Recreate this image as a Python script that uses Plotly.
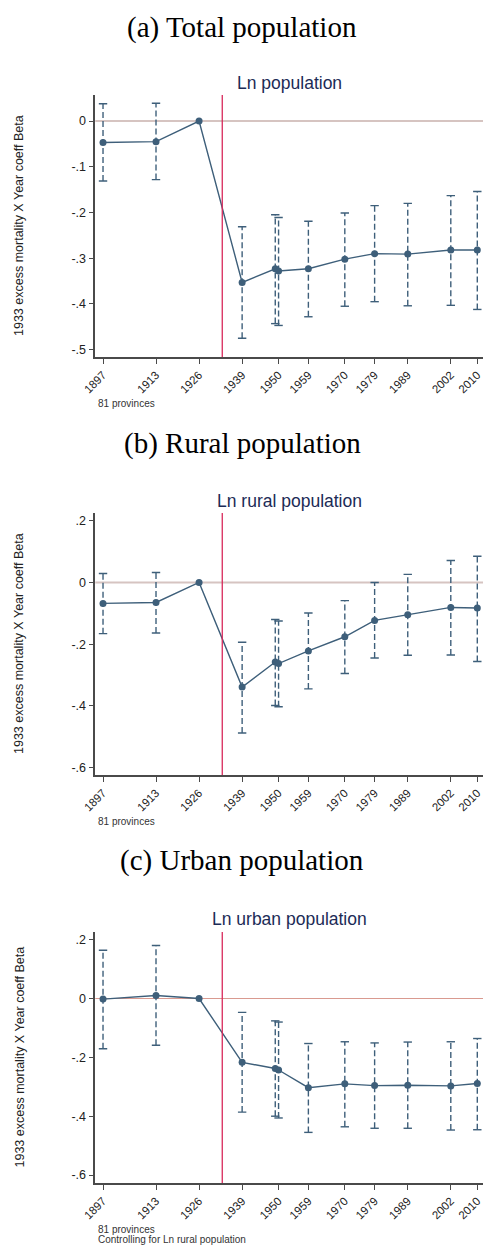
import plotly.graph_objects as go

# Census years (1949 and 1950 are separate observations)
years = [1897, 1913, 1926, 1939, 1949, 1950, 1959, 1970, 1979, 1989, 2002, 2010]
tick_years = [1897, 1913, 1926, 1939, 1950, 1959, 1970, 1979, 1989, 2002, 2010]

# (a) Ln population
total_beta = [-0.047, -0.045, 0.0, -0.353, -0.323, -0.328, -0.323, -0.302, -0.290, -0.291, -0.282, -0.282]
total_hi = [0.038, 0.039, None, -0.231, -0.205, -0.211, -0.219, -0.201, -0.185, -0.180, -0.163, -0.154]
total_lo = [-0.131, -0.128, None, -0.475, -0.443, -0.447, -0.428, -0.405, -0.395, -0.404, -0.403, -0.412]

# (b) Ln rural population
rural_beta = [-0.068, -0.065, 0.0, -0.339, -0.258, -0.263, -0.222, -0.176, -0.123, -0.105, -0.081, -0.083]
rural_hi = [0.029, 0.032, None, -0.194, -0.120, -0.125, -0.099, -0.059, 0.000, 0.026, 0.071, 0.085]
rural_lo = [-0.166, -0.164, None, -0.488, -0.399, -0.403, -0.345, -0.295, -0.245, -0.236, -0.235, -0.256]

# (c) Ln urban population
urban_beta = [-0.002, 0.010, 0.0, -0.217, -0.238, -0.243, -0.303, -0.290, -0.296, -0.295, -0.297, -0.289]
urban_hi = [0.164, 0.180, None, -0.047, -0.076, -0.080, -0.153, -0.147, -0.151, -0.148, -0.147, -0.136]
urban_lo = [-0.171, -0.159, None, -0.386, -0.400, -0.406, -0.455, -0.436, -0.441, -0.441, -0.447, -0.446]

panel_headings = ["(a) Total population", "(b) Rural population", "(c) Urban population"]
panel_titles = ["Ln population", "Ln rural population", "Ln urban population"]
y_ticks_a = [0, -0.1, -0.2, -0.3, -0.4, -0.5]
y_ticks_a_text = ["0", "-.1", "-.2", "-.3", "-.4", "-.5"]
y_ticks_bc = [0.2, 0, -0.2, -0.4, -0.6]
y_ticks_bc_text = [".2", "0", "-.2", "-.4", "-.6"]
notes = [["81 provinces"], ["81 provinces"], ["81 provinces", "Controlling for Ln rural population"]]
y_title = "1933 excess mortality X Year coeff Beta"
famine_year = 1933

W, H = 483, 1245
SERIES = "#3e5f7a"
AXIS = "#4a4a4a"
SANS = "Liberation Sans, Arial, sans-serif"
SERIF = "Liberation Serif, Times New Roman, serif"


def py(px):
    """Convert a pixel row (from top) into paper coordinates."""
    return 1 - px / H


panels = [
    dict(beta=total_beta, hi=total_hi, lo=total_lo, top=95, bottom=357,
         yrange=[-0.516, 0.057], ticks=y_ticks_a, ticktext=y_ticks_a_text,
         heading_y=27, title_y=83, note_y=403, zero_col="#d6c4c1", zero_w=2),
    dict(beta=rural_beta, hi=rural_hi, lo=rural_lo, top=513, bottom=775,
         yrange=[-0.624, 0.225], ticks=y_ticks_bc, ticktext=y_ticks_bc_text,
         heading_y=443, title_y=501, note_y=821, zero_col="#d6c4c1", zero_w=2),
    dict(beta=urban_beta, hi=urban_hi, lo=urban_lo, top=932, bottom=1183,
         yrange=[-0.627, 0.226], ticks=y_ticks_bc, ticktext=y_ticks_bc_text,
         heading_y=860, title_y=919, note_y=1229, zero_col="#d99a90", zero_w=1.2),
]

x_left = 95.3
x_domain = [x_left / W, 1.0]
x_range = [1894.67, 2011.72]

fig = go.Figure()
annotations = []
shapes = []

for i, p in enumerate(panels):
    n = i + 1
    xa = "x" if n == 1 else f"x{n}"
    ya = "y" if n == 1 else f"y{n}"

    # dashed confidence-interval spikes
    cx, cy = [], []
    capx, capy = [], []
    for yr, lo, hi in zip(years, p["lo"], p["hi"]):
        if lo is None:
            continue
        cx += [yr, yr, None]
        cy += [lo, hi, None]
        capx += [yr, yr]
        capy += [lo, hi]
    fig.add_trace(go.Scatter(x=cx, y=cy, mode="lines", xaxis=xa, yaxis=ya,
                             line=dict(color=SERIES, width=1.4, dash="6px,3px"),
                             hoverinfo="skip", showlegend=False))
    fig.add_trace(go.Scatter(x=capx, y=capy, mode="markers", xaxis=xa, yaxis=ya,
                             marker=dict(symbol="line-ew", size=6,
                                         line=dict(color=SERIES, width=1.4)),
                             hoverinfo="skip", showlegend=False))
    # point estimates
    fig.add_trace(go.Scatter(x=years, y=p["beta"], mode="lines+markers",
                             xaxis=xa, yaxis=ya,
                             line=dict(color=SERIES, width=1.4),
                             marker=dict(color=SERIES, size=7),
                             showlegend=False))

    dom = [py(p["bottom"]), py(p["top"])]
    fig.update_layout(**{
        ("xaxis" if n == 1 else f"xaxis{n}"): dict(
            domain=x_domain, range=x_range, anchor=ya, automargin=False,
            tickmode="array", tickvals=tick_years,
            ticktext=[str(t) for t in tick_years], tickangle=-45,
            ticklabeloverflow="allow",
            ticks="outside", ticklen=5, tickwidth=1.2, tickcolor=AXIS,
            showline=True, linecolor=AXIS, linewidth=1.5,
            showgrid=False, zeroline=False,
            tickfont=dict(family=SANS, size=11.5, color="#222")),
        ("yaxis" if n == 1 else f"yaxis{n}"): dict(
            domain=dom, range=p["yrange"], anchor=xa, automargin=False,
            tickmode="array", tickvals=p["ticks"], ticktext=p["ticktext"],
            ticks="outside", ticklen=5, tickwidth=1.2, tickcolor=AXIS,
            showline=True, linecolor=AXIS, linewidth=1.5,
            showgrid=False, zeroline=False,
            tickfont=dict(family=SANS, size=12.5, color="#222")),
    })

    # zero reference line and famine-year marker
    shapes.append(dict(type="line", xref=f"{xa} domain", yref=ya, x0=0, x1=1,
                       y0=0, y1=0, layer="below",
                       line=dict(color=p["zero_col"], width=p["zero_w"])))
    shapes.append(dict(type="line", xref=xa, yref=f"{ya} domain",
                       x0=famine_year, x1=famine_year, y0=0, y1=1,
                       line=dict(color="#d8275a", width=1.3)))

    annotations.append(dict(text=panel_headings[i], xref="paper", yref="paper",
                            x=242 / W, y=py(p["heading_y"]), showarrow=False,
                            xanchor="center", yanchor="middle",
                            font=dict(family=SERIF, size=29, color="#000")))
    annotations.append(dict(text=panel_titles[i], xref="paper", yref="paper",
                            x=(x_left + W) / 2 / W, y=py(p["title_y"]),
                            showarrow=False, xanchor="center", yanchor="middle",
                            font=dict(family=SANS, size=17.5, color="#1c2b56")))
    annotations.append(dict(text=y_title, xref="paper", yref="paper",
                            x=19 / W, y=py((p["top"] + p["bottom"]) / 2),
                            showarrow=False, textangle=-90,
                            xanchor="center", yanchor="middle",
                            font=dict(family=SANS, size=12.5, color="#222")))
    for k, line in enumerate(notes[i]):
        annotations.append(dict(text=line, xref="paper", yref="paper",
                                x=96 / W, y=py(p["note_y"] + 10 * k),
                                showarrow=False, xanchor="left", yanchor="middle",
                                font=dict(family=SANS, size=10, color="#333")))

fig.update_layout(width=W, height=H, margin=dict(l=0, r=0, t=0, b=0),
                  paper_bgcolor="white", plot_bgcolor="white",
                  shapes=shapes, annotations=annotations)

fig.write_html("out.html")
